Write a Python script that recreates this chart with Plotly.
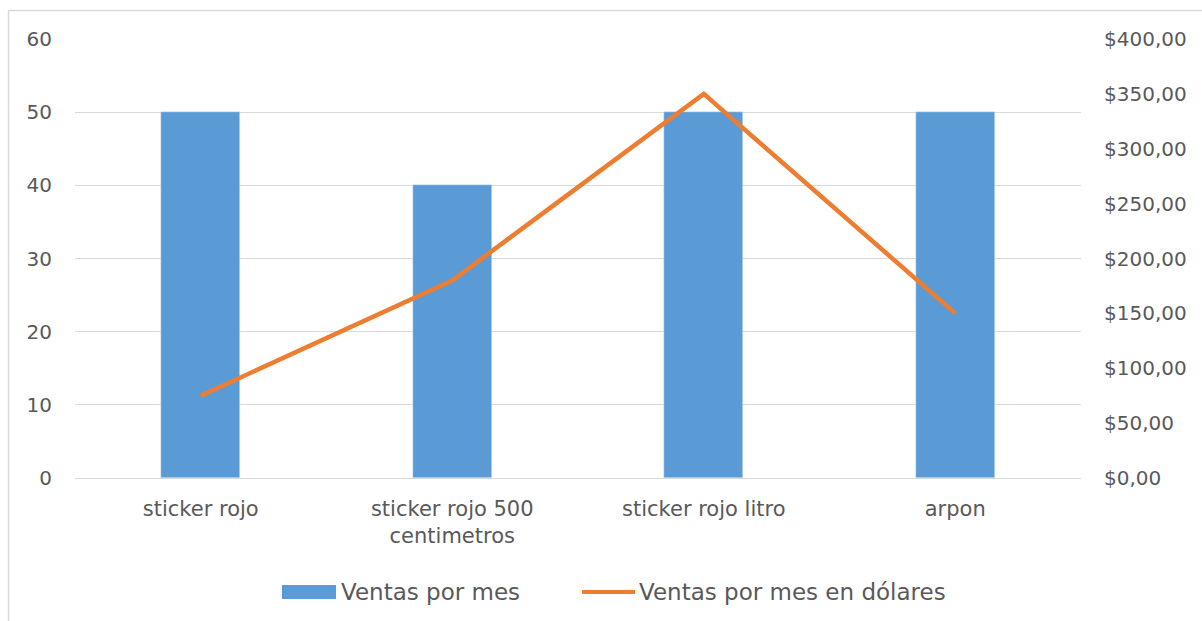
import plotly.graph_objects as go

categories = ["sticker rojo", "sticker rojo 500<br>centimetros", "sticker rojo litro", "arpon"]
ventas_por_mes = [50, 40, 50, 50]
ventas_dolares = [75, 180, 350, 150]
left_ticks = [0, 10, 20, 30, 40, 50, 60]
right_ticks = [0, 50, 100, 150, 200, 250, 300, 350, 400]
right_labels = ["$0,00", "$50,00", "$100,00", "$150,00", "$200,00", "$250,00", "$300,00", "$350,00", "$400,00"]
series_names = ["Ventas por mes", "Ventas por mes en dólares"]

FONT = "DejaVu Sans"
TXT = "#595959"
BLUE = "#5B9BD5"
ORANGE = "#ED7D31"
W, H = 1202, 621
L, R, T, B = 75, 121, 39, 143
pw, ph = W - L - R, H - T - B


def px_x(x):
    return (x - L) / pw


def px_y(y):
    return (H - B - y) / ph


fig = go.Figure()
fig.add_trace(go.Bar(x=categories, y=ventas_por_mes, name=series_names[0],
                     marker_color=BLUE, width=0.315, yaxis="y", showlegend=False))
fig.add_trace(go.Scatter(x=categories, y=ventas_dolares, name=series_names[1],
                         mode="lines", line=dict(color=ORANGE, width=4.5), yaxis="y2",
                         showlegend=False))

fig.update_layout(
    width=W, height=H,
    margin=dict(l=L, r=R, t=T, b=B, autoexpand=False),
    paper_bgcolor="white", plot_bgcolor="white",
    font=dict(family=FONT, color=TXT, size=20),
    showlegend=False,
    xaxis=dict(showgrid=False, showline=False, ticks="", automargin=False,
               ticklabelstandoff=16, tickfont=dict(size=21, color=TXT)),
    yaxis=dict(range=[0, 60], tickvals=left_ticks, showgrid=True, gridcolor="#D9D9D9",
               gridwidth=1, zeroline=True, zerolinecolor="#D9D9D9", zerolinewidth=1,
               showline=False, ticks="", automargin=False, ticklabelstandoff=22,
               tickfont=dict(size=20, color=TXT)),
    yaxis2=dict(range=[0, 400], tickvals=right_ticks, ticktext=right_labels, overlaying="y",
                side="right", showgrid=False, zeroline=False, showline=False, ticks="",
                automargin=False, ticklabelstandoff=22, tickfont=dict(size=20, color=TXT)),
    bargap=0,
)

# chart-area border
fig.add_shape(type="rect", xref="paper", yref="paper",
              x0=px_x(8.5), x1=px_x(W + 20), y0=px_y(H + 20), y1=px_y(10.5),
              line=dict(color="#D9D9D9", width=1.5), fillcolor="rgba(0,0,0,0)", layer="below")

# legend
ly = 592
fig.add_shape(type="rect", xref="paper", yref="paper",
              x0=px_x(282), x1=px_x(336), y0=px_y(599), y1=px_y(585),
              line=dict(width=0), fillcolor=BLUE)
fig.add_annotation(xref="paper", yref="paper", x=px_x(339), y=px_y(ly), text=series_names[0],
                   showarrow=False, xanchor="left", yanchor="middle",
                   font=dict(size=23, color=TXT, family=FONT))
fig.add_shape(type="line", xref="paper", yref="paper",
              x0=px_x(582), x1=px_x(635), y0=px_y(ly), y1=px_y(ly),
              line=dict(color=ORANGE, width=4))
fig.add_annotation(xref="paper", yref="paper", x=px_x(637), y=px_y(ly), text=series_names[1],
                   showarrow=False, xanchor="left", yanchor="middle",
                   font=dict(size=23, color=TXT, family=FONT))

fig.write_html("out.html")
